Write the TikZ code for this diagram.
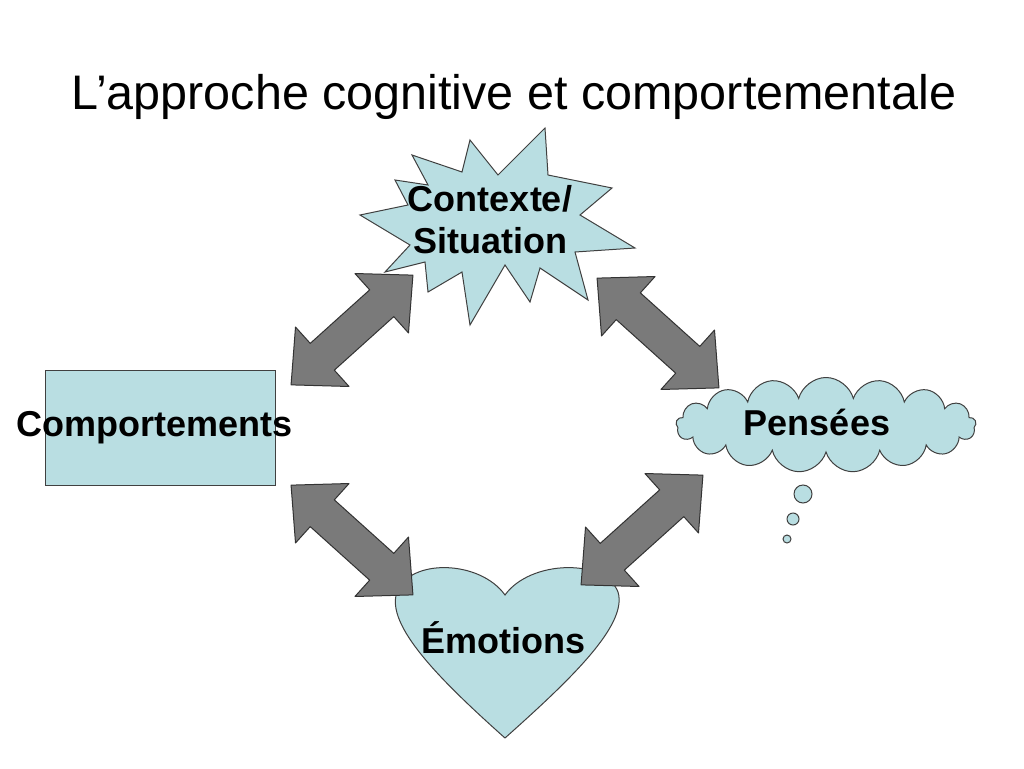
\documentclass[tikz,border=0pt]{standalone}
\usepackage{fontspec}
\setmainfont{Liberation Sans}
\usetikzlibrary{shapes.symbols}
\definecolor{lb}{HTML}{B9DEE2}
\definecolor{ag}{HTML}{7A7A7A}
\tikzset{
  shp/.style={fill=lb,draw=black!75,line width=1pt},
  lbl/.style={font=\bfseries\fontsize{36}{42}\selectfont,align=center},
  dbl/.style={fill=ag,draw=black!80,line width=1pt,line join=round},
}
\newcommand\dblarrow[3]{%
 \begin{scope}[shift={(#1,#2)},rotate=#3]
  \filldraw[dbl] (-82,0)--(-40,-40)--(-40,-18)--(40,-18)--(40,-40)--(82,0)--(40,40)--(40,18)--(-40,18)--(-40,40)--cycle;
 \end{scope}}
\begin{document}
\begin{tikzpicture}[x=1pt,y=-1pt]
\useasboundingbox (0,0) rectangle (1024,768);
\fill[white] (0,0) rectangle (1024,768);
\node[font=\fontsize{48.5}{54}\selectfont] (title) at (514,97) {L’approche cognitive et comportementale};
% starburst
\filldraw[shp] (545,128)--(548,175)--(612,188)--(580,215)--(635,248)--(575,252)--(588,300)--(540,268)--(530,302)--(505,265)--(470,325)--(462,272)--(428,292)--(425,262)--(385,272)--(410,245)--(360,215)--(408,205)--(395,180)--(428,185)--(412,155)--(462,172)--(470,140)--(498,175)--cycle;
\node[lbl] (ctx) at (490,220) {Contexte/\\Situation};
% rectangle
\filldraw[shp] (45,370) rectangle (275,485);
\node[lbl] (comp) at (155,428) {Comportements};
% cloud
\node[shp,cloud,cloud puffs=17,aspect=3.2,minimum width=300pt,minimum height=95pt] (cl) at (826,425) {};
\node[lbl] (pen) at (817,422) {Pensées};
\filldraw[shp] (803,494) circle (9);
\filldraw[shp] (793,519) circle (6);
\filldraw[shp] (787,539) circle (4);
% heart
\filldraw[shp] (505,738) .. controls (440,680) and (385,625) .. (397,592) .. controls (410,558) and (480,560) .. (505,595) .. controls (530,560) and (605,558) .. (618,592) .. controls (628,625) and (570,680) .. (505,738);
\node[lbl] (emo) at (503,638) {Émotions};
% arrows
\dblarrow{352}{330}{42}
\dblarrow{658}{333}{-42}
\dblarrow{352}{540}{-42}
\dblarrow{642}{530}{42}
\end{tikzpicture}
\end{document}
